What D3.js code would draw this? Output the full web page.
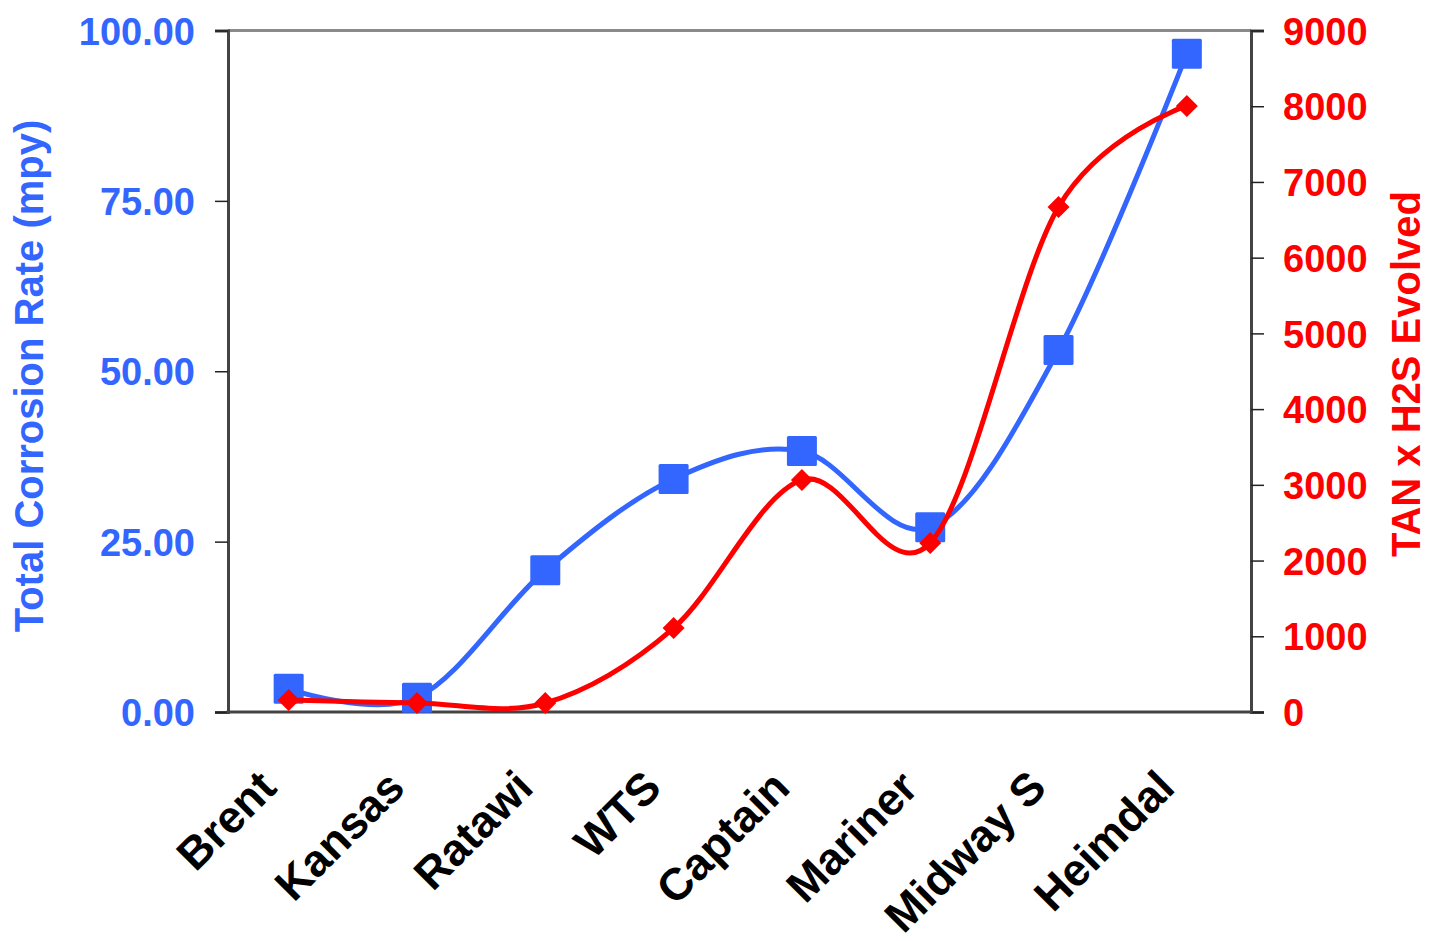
<!DOCTYPE html>
<html>
<head>
<meta charset="utf-8">
<script src="https://cdn.jsdelivr.net/npm/d3@7"></script>
<style>
  html, body { margin: 0; padding: 0; background: #fff; }
  text { font-family: "Liberation Sans", Arial, sans-serif; font-weight: bold; }
</style>
</head>
<body>
<svg id="chart" width="1429" height="941"></svg>
<script>
const categories = ["Brent", "Kansas", "Ratawi", "WTS", "Captain", "Mariner", "Midway S", "Heimdal"];
const corrosionRate = [3.4, 2.1, 20.8, 34.2, 38.3, 27.1, 53.1, 96.6];
const tanH2S = [158, 119, 119, 1109, 3064, 2232, 6669, 8003];
const leftTicks = [0, 25, 50, 75, 100];
const rightTicks = [0, 1000, 2000, 3000, 4000, 5000, 6000, 7000, 8000, 9000];

const blue = "#3366FF", red = "#FF0000";
const svg = d3.select("#chart");
const L = 228, R = 1251, T = 30.5, B = 712;

const x = d3.scaleBand().domain(categories).range([224.5, R]);
const cx = c => x(c) + x.bandwidth() / 2;
const yL = d3.scaleLinear().domain([0, 100]).range([B, T]);
const yR = d3.scaleLinear().domain([0, 9000]).range([B, T]);

// frame
svg.append("line").attr("x1", L).attr("x2", R).attr("y1", T).attr("y2", T)
  .attr("stroke", "#8a8a8a").attr("stroke-width", 3);

// left axis
const gL = svg.append("g").attr("transform", `translate(${L},0)`)
  .call(d3.axisLeft(yL).tickValues(leftTicks).tickFormat(d3.format(".2f")).tickSize(13).tickPadding(20));
gL.select(".domain").attr("stroke", "#444").attr("stroke-width", 3);
gL.selectAll(".tick line").attr("stroke", "#222").attr("stroke-width", 1.5);
gL.selectAll(".tick text").attr("fill", blue).style("font-size", "38px").attr("dy", "0.36em");

// right axis
const gR = svg.append("g").attr("transform", `translate(${R},0)`)
  .call(d3.axisRight(yR).tickValues(rightTicks).tickFormat(d3.format("d")).tickSize(13).tickPadding(19));
gR.select(".domain").attr("stroke", "#444").attr("stroke-width", 3);
gR.selectAll(".tick line").attr("stroke", "#222").attr("stroke-width", 1.5);
gR.selectAll(".tick text").attr("fill", red).style("font-size", "38px").attr("dy", "0.36em");

// bottom axis line
svg.append("line").attr("x1", L - 1.5).attr("x2", R + 1.5).attr("y1", B).attr("y2", B)
  .attr("stroke", "#444").attr("stroke-width", 3);

// category labels
svg.append("g").selectAll("text").data(categories).join("text")
  .attr("transform", d => `translate(${cx(d) - 10},790) rotate(-45)`)
  .attr("text-anchor", "end")
  .style("font-size", "45px")
  .attr("fill", "#000")
  .text(d => d);

// axis titles
svg.append("text").attr("transform", "translate(43,376) rotate(-90)")
  .attr("text-anchor", "middle").attr("fill", blue).style("font-size", "40px")
  .text("Total Corrosion Rate (mpy)");
svg.append("text").attr("transform", "translate(1420,374) rotate(-90)")
  .attr("text-anchor", "middle").attr("fill", red).style("font-size", "40px")
  .text("TAN x H2S Evolved");

// lines
const blueLine = d3.line().x((d, i) => cx(categories[i])).y(d => yL(d)).curve(d3.curveCatmullRom.alpha(0));
const redLine = d3.line().x((d, i) => cx(categories[i])).y(d => yR(d)).curve(d3.curveCatmullRom.alpha(0));

svg.append("path").datum(corrosionRate).attr("d", blueLine)
  .attr("fill", "none").attr("stroke", blue).attr("stroke-width", 5).attr("stroke-linejoin", "round");

svg.append("g").selectAll("rect").data(corrosionRate).join("rect")
  .attr("x", (d, i) => cx(categories[i]) - 15)
  .attr("y", d => yL(d) - 15)
  .attr("width", 30).attr("height", 30).attr("rx", 1.5)
  .attr("fill", blue);

svg.append("path").datum(tanH2S).attr("d", redLine)
  .attr("fill", "none").attr("stroke", red).attr("stroke-width", 5).attr("stroke-linejoin", "round");

svg.append("g").selectAll("path.mk").data(tanH2S).join("path")
  .attr("class", "mk")
  .attr("transform", (d, i) => `translate(${cx(categories[i])},${yR(d)})`)
  .attr("d", "M0,-11 L11,0 L0,11 L-11,0 Z")
  .attr("fill", red);
</script>
</body>
</html>
